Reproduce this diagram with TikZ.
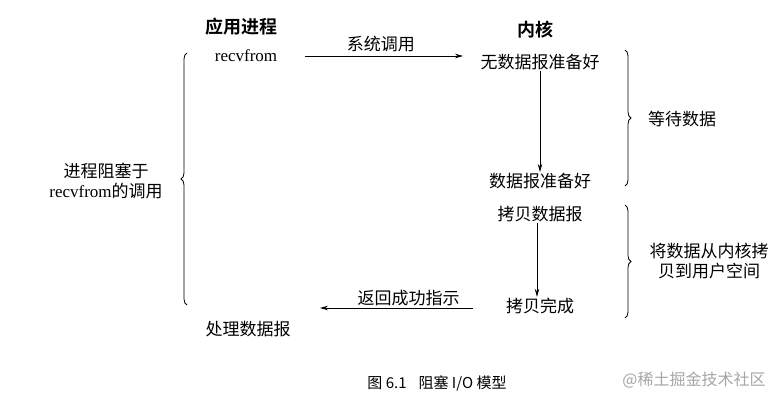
\documentclass[tikz,border=0pt]{standalone}
\usepackage{fontspec}
\newfontfamily\cjk{Noto Sans CJK SC}[BoldFont={Noto Sans CJK SC Bold}]
\newfontfamily\lms{Liberation Serif}
\usetikzlibrary{arrows.meta,decorations.pathreplacing}
\tikzset{
  lbl/.style={font=\cjk\fontsize{17}{20}\selectfont, inner sep=1pt, text=black},
  ttl/.style={font=\cjk\bfseries\fontsize{18}{20}\selectfont, inner sep=1pt},
  arr/.style={draw=black, line width=0.8pt, -{Stealth[length=8pt,width=4.5pt]}},
  brc/.style={draw=black, line width=0.8pt, decorate, decoration={brace, amplitude=6pt}},
}
\newcommand{\lmtext}[1]{{\lms #1}}
\begin{document}
\begin{tikzpicture}[x=1pt,y=-1pt]
\useasboundingbox[fill=white] (0,0) rectangle (780,404);
% titles
\node[ttl] (app) at (241,27) {应用进程};
\node[ttl] (kern) at (535,30) {内核};
% app side
\node[lbl, font=\lms\fontsize{17}{20}\selectfont] (recv) at (246,56) {recvfrom};
\node[lbl] (proc) at (248,329) {处理数据报};
% kernel side
\node[lbl] (nodata) at (540,62) {无数据报准备好};
\node[lbl] (ready) at (540,181) {数据报准备好};
\node[lbl] (copy) at (540,214) {拷贝数据报};
\node[lbl] (done) at (540,306) {拷贝完成};
% arrows
\coordinate (sysstart) at (305,56);
\coordinate (sysend) at (463,56);
\draw[arr] (sysstart) -- node[lbl, above=3pt, pos=0.48] (sys) {系统调用} (sysend);
\draw[arr] (nodata.south -| ready.north) -- (ready.north);
\draw[arr] ([xshift=-3pt]copy.south) -- ([xshift=-3pt]done.north);
\coordinate (retstart) at (473,308);
\coordinate (retend) at (320,308);
\draw[arr] (retstart) -- node[lbl, above=1pt, pos=0.42] (ret) {返回成功指示} (retend);
% braces
\coordinate (lb1) at (187,305);
\coordinate (lb2) at (187,53);
\draw[brc] (lb1) -- (lb2);
\node[lbl, align=center] (block) at (106,181) {进程阻塞于\\\lmtext{recvfrom}的调用};
\coordinate (rb1t) at (625,50);
\coordinate (rb1b) at (625,186);
\draw[brc] (rb1t) -- (rb1b);
\node[lbl, anchor=west] (wait) at (647,119) {等待数据};
\coordinate (rb2t) at (625,205);
\coordinate (rb2b) at (625,318);
\draw[brc] (rb2t) -- (rb2b);
\node[lbl, align=center] (cpy) at (709,261) {将数据从内核拷\\贝到用户空间};
% caption
\node[lbl, font=\cjk\fontsize{15}{17}\selectfont] (cap) at (437,383) {图 6.1\hspace{12pt}阻塞 I/O 模型};
\node[lbl, text=black!35, font=\cjk\fontsize{16}{18}\selectfont] (wm) at (694,380) {@稀土掘金技术社区};
\end{tikzpicture}
\end{document}
